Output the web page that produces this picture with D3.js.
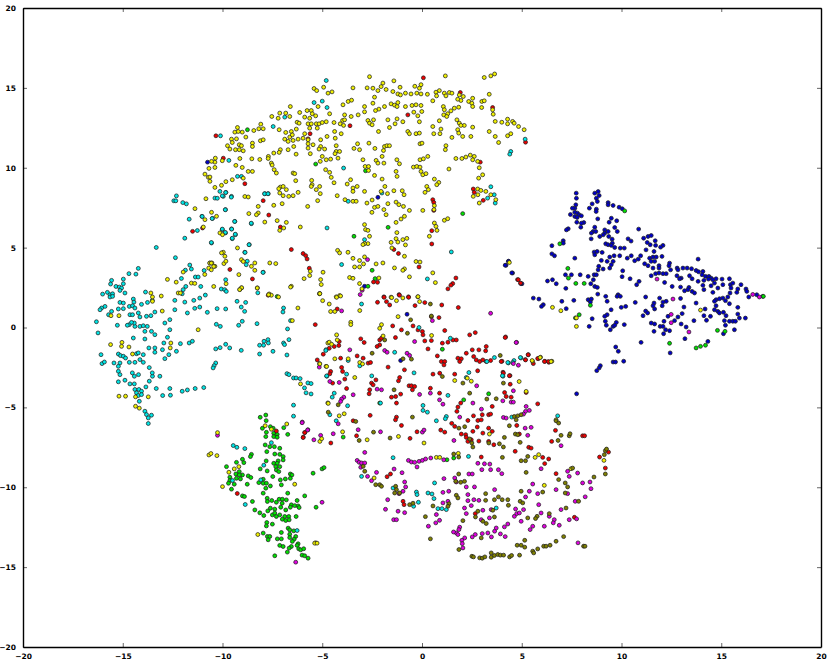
<!DOCTYPE html>
<html><head><meta charset="utf-8">
<script src="https://cdn.jsdelivr.net/npm/d3@7/dist/d3.min.js"></script>
<style>html,body{margin:0;background:#fff}svg{display:block}text{font-family:"DejaVu Sans",sans-serif;font-weight:700;font-size:7.5px}</style>
</head><body><div id="c"></div><script>
const tickValues=[-20,-15,-10,-5,0,5,10,15,20];
const domainX=[-20,20], domainY=[-20,20];
const blue=[[7.73,8.41],[7.74,8.09],[8.66,8.41],[8.83,8.51],[8.88,8.26],[8.74,8.09],[8.79,7.89],[9.33,7.82],[9.33,7.68],[9.58,7.64],[9.88,7.53],[10.04,7.43],[8.53,7.74],[8.39,7.47],[7.71,7.68],[7.66,7.47],[7.54,7.47],[8.74,7.41],[8.73,7.26],[7.66,7.22],[7.44,7.07],[7.79,7.16],[7.88,7.05],[7.99,6.99],[7.66,6.95],[7.78,6.89],[8.81,6.8],[7.76,6.59],[8.11,6.57],[7.99,6.53],[7.96,6.28],[9.49,6.84],[9.38,6.59],[9.76,6.68],[7.33,6.18],[7.24,6.11],[8.66,6.28],[8.58,6.01],[8.71,6.01],[8.49,5.91],[8.48,5.55],[8.91,5.7],[9.16,6.11],[9.33,6.01],[9.16,5.91],[9.08,5.8],[9.36,5.7],[9.66,6.26],[9.79,6.01],[9.53,5.53],[9.54,5.28],[9.21,5.24],[9.33,5.18],[9.66,5.01],[9.49,5.14],[9.94,4.97],[10.14,4.97],[10.33,5.55],[10.48,5.41],[10.86,6.16],[11.11,5.59],[11.33,5.7],[11.49,5.76],[11.29,5.32],[11.44,5.18],[11.69,5.43],[11.71,5.14],[12.08,5.14],[11.96,5.03],[6.51,5.12],[7.08,5.43],[7.08,5.28],[6.51,4.61],[6.64,4.49],[7.66,4.34],[8.63,4.72],[8.78,4.76],[8.66,4.55],[9.03,4.7],[9.41,4.41],[8.99,4.2],[9.28,4.14],[9.63,4.49],[9.58,4.14],[9.49,3.93],[9.41,3.72],[8.86,3.83],[9.08,3.66],[8.83,3.61],[9.91,4.49],[10.29,4.34],[10.49,4.49],[10.66,4.18],[10.84,4.28],[10.96,4.49],[11.23,4.86],[11.63,4.76],[11.41,4.34],[11.58,4.41],[11.74,4.41],[12.03,4.45],[11.49,4.14],[11.66,4.14],[11.16,3.99],[11.33,3.87],[11.58,3.72],[11.88,3.87],[11.88,3.72],[12.41,4.03],[12.38,3.87],[12.79,3.72],[13.08,3.72],[13.29,3.72],[13.51,3.68],[13.84,4.28],[13.74,3.57],[13.86,3.49],[14.08,3.51],[12.46,3.61],[12.83,3.61],[11.88,3.41],[11.71,3.37],[12.08,3.37],[12.24,3.37],[12.78,3.24],[12.99,3.09],[13.41,3.24],[13.54,3.05],[12.91,3.05],[14.04,3.3],[14.21,3.2],[14.38,3.2],[14.49,3.09],[14.36,3.03],[14.58,2.99],[14.74,3.05],[15.04,3.03],[15.41,3.05],[14.66,2.78],[14.83,2.47],[14.49,2.61],[14.08,2.64],[13.84,2.89],[13.38,2.51],[13.33,2.37],[13.54,2.26],[13.66,2.16],[12.16,2.82],[12.54,2.57],[12.96,2.53],[13.16,2.3],[14.58,2.2],[14.13,2.37],[15.08,2.68],[15.46,2.68],[15.58,2.78],[15.99,2.68],[15.49,2.47],[15.44,2.16],[15.83,2.41],[15.78,2.2],[16.24,2.41],[16.28,2.26],[16.38,1.91],[16.78,2.05],[17.08,1.95],[15.33,1.91],[15.08,1.84],[14.74,1.74],[14.91,1.8],[14.66,1.64],[15.21,1.68],[15.41,1.49],[14.74,1.36],[14.66,1.11],[14.83,1.01],[13.74,1.53],[14.19,1.16],[14.46,0.7],[14.13,0.74],[14.26,0.45],[13.63,0.43],[13.13,1.28],[13.04,0.87],[12.83,0.66],[12.66,0.43],[12.99,0.22],[13.24,0.03],[12.96,1.82],[12.24,1.64],[12.08,1.59],[11.91,1.84],[11.63,1.53],[11.58,1.36],[12.04,1.36],[11.66,1.16],[11.21,1.03],[11.08,0.74],[11.31,0.91],[11.49,0.28],[11.66,0.22],[11.94,0.07],[12.08,0.07],[12.13,0.39],[12.33,0.7],[12.21,-0.14],[12.41,-0.2],[12.11,-0.39],[11.63,-0.24],[13.18,-0.7],[11.21,1.91],[10.69,1.57],[10.21,1.32],[9.99,1.26],[9.83,2.05],[9.78,1.95],[9.94,1.95],[9.21,1.95],[9.28,1.64],[9.48,1.11],[9.28,0.8],[9.16,0.7],[9.19,0.39],[9.24,0.14],[9.58,0.07],[9.74,0.32],[9.66,0.14],[9.44,-0.14],[10.14,0.18],[8.53,0.55],[8.38,0.07],[8.33,1.74],[8.49,1.78],[8.44,1.59],[8.81,2.09],[7.61,1.7],[7.01,1.64],[7.23,1.18],[6.08,1.43],[5.99,1.32],[5.86,1.78],[5.58,1.84],[7.21,2.45],[6.73,2.74],[6.29,2.91],[6.54,2.99],[7.19,3.3],[7.49,3.3],[7.93,3.3],[8.33,3.2],[8.63,3.3],[8.74,3.3],[8.59,2.99],[8.46,2.74],[8.66,2.57],[8.79,2.51],[10.03,3.18],[10.06,3.55],[10.43,3.05],[10.88,2.89],[10.76,2.68],[11.49,3.24],[10.98,-0.93],[9.71,-1.22],[9.84,-1.49],[10.11,-2.11],[9.58,-2.16],[9.7,-2.16],[8.94,-2.39],[8.88,-2.53],[8.76,-2.7],[12.44,-1.59],[5.01,2.74],[4.54,3.41],[4.21,3.89],[4.33,4.14],[14.91,0.91],[15.11,0.95],[15.24,0.74],[15.41,0.39],[15.58,0.39],[15.71,0.39],[15.91,0.59],[16.21,0.59],[15.83,1.26],[15.83,0.84],[15.16,0.43],[15.21,0.14],[15.11,-0.39],[15.66,-0.14],[14.33,-0.87],[14.13,2.95],[7.75,-4.15],[-10.75,10.35],[-2.21,8.15],[4.17,3.9],[4.34,4.15],[4.5,3.42],[4.95,2.75],[-2.88,2.58],[-0.75,0.83],[-1.07,-2.07]];
const green=[[10.16,7.3],[6.91,5.24],[7.31,3.7],[7.34,3.09],[7.71,2.76],[8.13,2.76],[8.44,1.39],[7.88,0.8],[7.69,0.6],[14.81,-0.18],[15.19,-0.24],[12.41,-0.99],[14.21,-1.11],[13.96,-1.18],[13.74,-1.28],[17.11,1.95],[-8.75,12.38],[-5.33,10.23],[-2.83,9.81],[2.04,7.13],[-1.7,6.27],[-3.41,5.71],[-2.5,3.58],[-2.35,3.06],[-2.71,2.58],[-7.26,1.94],[1.02,-1.36],[3.34,-4.15],[2.09,-4.53],[-2.12,-4.73],[-3.95,-6.86],[1.25,-8.28],[1.59,-8.17],[-7.83,-5.48],[-8.11,-5.62],[-7.81,-5.83],[-7.6,-6.21],[-8,-6.31],[-6.93,-6.27],[-7.46,-6.31],[-7.8,-6.56],[-7.83,-6.83],[-7.43,-6.62],[-7.26,-6.69],[-7.43,-6.83],[-7.26,-6.87],[-6.73,-6.69],[-7.86,-7.35],[-7.63,-7.46],[-7.4,-7.46],[-7.13,-7.56],[-7.78,-7.77],[-7.38,-7.92],[-7.13,-7.94],[-6.96,-8.08],[-6.96,-8.29],[-7.21,-8.35],[-8.55,-7.94],[-8.6,-8.08],[-9,-8.25],[-8.93,-8.46],[-9.3,-8.44],[-9.8,-8.71],[-7.81,-8.35],[-7.43,-8.5],[-7.26,-8.5],[-7.33,-8.71],[-7.13,-8.71],[-7.3,-8.92],[-7.18,-9.02],[-8.11,-8.85],[-7.76,-8.98],[-7.48,-9.33],[-6.6,-9.17],[-6.52,-9.23],[-6.6,-9.44],[-6.85,-9.48],[-7.1,-9.54],[-5.46,-9.12],[-5.01,-8.85],[-4.91,-8.77],[-9.33,-9.17],[-9.16,-9.02],[-9,-9.23],[-9.16,-9.23],[-8.71,-9.29],[-8.58,-9.39],[-9.3,-9.44],[-9.1,-9.48],[-9.63,-9.37],[-9.63,-9.58],[-9.7,-9.75],[-9.41,-9.81],[-8.76,-9.81],[-9.55,-10.12],[-8.18,-9.71],[-7.96,-9.5],[-7.96,-9.75],[-7.8,-9.75],[-7.6,-9.92],[-7.83,-10.06],[-7.96,-10.37],[-7.05,-9.85],[-6.73,-10.37],[-5.88,-10.54],[-6.26,-10.83],[-9,-10.54],[-8.9,-10.58],[-8.5,-10.89],[-7.76,-10.69],[-7.75,-10.89],[-7.53,-10.83],[-7.3,-10.94],[-7.16,-10.75],[-7,-10.75],[-6.8,-10.79],[-7.01,-11],[-6.55,-11.1],[-6.6,-11.25],[-6.38,-11.15],[-6.21,-11.17],[-6.16,-11.27],[-5.31,-11.25],[-8.38,-11.42],[-8.13,-11.6],[-7.93,-11.77],[-7.73,-11.48],[-7.6,-11.31],[-7.38,-11.37],[-7.08,-11.25],[-6.83,-11.42],[-7.5,-11.73],[-7.38,-11.62],[-7.3,-11.83],[-7.13,-11.73],[-6.88,-11.83],[-6.68,-11.83],[-7,-12],[-6.83,-12.08],[-6.66,-12.04],[-6.31,-11.83],[-7.78,-12.21],[-7.8,-12.42],[-7.5,-12.31],[-6.71,-12.56],[-6.63,-12.67],[-6.43,-12.73],[-7.96,-12.87],[-7.75,-13.08],[-7.63,-13.08],[-7.71,-13.29],[-7.05,-12.83],[-6.63,-12.94],[-6.63,-13.15],[-6.33,-13.08],[-6.41,-13.25],[-6.5,-13.39],[-7.25,-13.23],[-7.05,-13.23],[-7.13,-13.64],[-6.96,-13.71],[-6.21,-13.54],[-6.26,-13.64],[-6.55,-13.71],[-6.66,-13.81],[-6.75,-14.06],[-6.18,-13.85],[-6.08,-13.92],[-5.93,-13.85],[-7.38,-14.29],[-6.01,-14.25],[-5.88,-14.29],[-5.71,-14.44]];
const red=[[0.07,15.63],[1.92,14.71],[3.54,13.77],[-0.71,13.31],[-3.61,12.63],[-5.61,12.13],[-5.71,11.81],[-10.33,12],[-9.96,10.6],[-8.88,9],[-7.96,7.94],[-7.68,7.04],[-11.5,6.02],[-11,6.23],[-7.1,6.29],[-6.55,4.88],[-5.96,4.63],[-5.83,4.5],[-5.76,4.29],[-5.65,3.71],[-9.63,3.63],[-8.5,3.04],[-7.71,2.02],[2.92,10.35],[2.57,8.67],[2.62,8.46],[3.07,7.96],[5.19,11.6],[0.54,8],[0.59,7.83],[0.59,7.33],[0.49,6.06],[0.49,5.23],[-1.41,4.88],[-1.18,4.63],[-0.15,3.79],[1.7,3.1],[1.54,2.75],[1.45,2.65],[1.3,2.42],[-2.43,2.85],[-2.23,2.83],[-1.91,1.92],[-1.15,2.06],[-0.68,1.92],[4.79,3],[4.83,2.99],[4.94,2.78],[4.19,-0.59],[4.01,-2.11],[5.18,-2.01],[5.33,-1.7],[5.58,-2.26],[5.83,-1.95],[6.16,-2.11],[6.36,-2.18],[4.06,-2.8],[4.41,-3.01],[-1.13,2.02],[-1.9,1.89],[-2.23,1.58],[-1.78,1.62],[-1.62,1.41],[-0.67,1.89],[0.14,1.56],[-0.35,1.37],[0.99,1.41],[1.82,1.25],[0.47,0.68],[0.85,0.62],[-5.35,0.18],[-4.25,1.16],[-1.47,0.1],[-0.45,0.1],[-1.03,-0.15],[-0.2,-0.15],[0.02,-0.25],[0.05,-0.46],[1.14,-0.19],[2.39,-0.46],[2.67,-0.32],[4.17,-0.63],[-3.07,-0.71],[-2.9,-0.94],[-2.12,-0.78],[-2.03,-0.67],[-2.12,-1.09],[-2.25,-1.19],[-1.33,-0.63],[0.14,-0.84],[0.47,-0.82],[1.02,-0.98],[1.3,-0.92],[1.55,-0.78],[1.72,-0.78],[0.3,-1.34],[-4.15,-0.88],[-4.17,-1.13],[-4.4,-1.19],[-4.65,-1.3],[-4.95,-1.67],[-5.25,-2.03],[-3.25,-1.78],[-4.08,-1.92],[-2.95,-1.92],[-2.7,-2.23],[-2.58,-2.19],[-1.7,-2.48],[-0.88,-2.65],[0.77,-1.78],[0.97,-2.13],[1.14,-2.13],[1.1,-2.34],[0.55,-2.92],[0.89,-2.86],[1.64,-2.92],[2.79,-2.71],[2.22,-1.61],[2.52,-1.4],[2.85,-1.4],[3.22,-1.19],[3.19,-1.46],[1.8,-1.92],[1.97,-1.96],[1.89,-2.13],[2.59,-1.82],[2.72,-2.03],[2.89,-2.13],[3.05,-2.03],[3.22,-2.13],[3.44,-2.07],[3.97,-2.13],[5.19,-2.03],[5.32,-1.71],[5.8,-1.94],[6.14,-2.13],[6.34,-2.13],[-4.03,-2.5],[-3.98,-2.75],[-3.87,-3.23],[-4.58,-2.75],[-4.62,-2.9],[-4.48,-3.48],[-3.78,-3.82],[-2.53,-3.48],[-2.31,-3.28],[-2.45,-3.59],[-2.62,-3.9],[-2.65,-4.15],[-1.18,-3.34],[-1.12,-3.13],[-1.32,-4.32],[-1.53,-4.36],[-1.07,-4.17],[-1.28,-4.73],[-0.65,-3.65],[-0.53,-3.65],[-0.37,-3.69],[-0.48,-3.9],[0.42,-3.8],[0.88,-4.11],[-3.45,-5.84],[-2.6,-5.5],[-1.28,-5.61],[-1.33,-5.78],[-1.03,-6.13],[-5.87,-6.57],[-5.95,-6.86],[-4.57,-7.23],[-3.28,-6.78],[-0.6,-6.94],[-0.25,-6.53],[0.94,-6.42],[1.14,-6.55],[1.49,-6],[1.64,-6.19],[1.97,-6.67],[2.19,-6.71],[2.22,-6.88],[2.3,-7.13],[2.47,-7.03],[2.55,-6.5],[2.3,-5.82],[2.58,-5.53],[2.8,-5.82],[2.97,-5.78],[3.02,-5.46],[2.77,-6.23],[3.05,-6.61],[3.34,-5.46],[3.44,-5.42],[3.34,-6.3],[3.52,-6.5],[2.85,-7.11],[3.34,-7.13],[3.6,-7.34],[4.38,-3.02],[4.08,-2.86],[4.42,-3.55],[4.14,-4.07],[4.22,-4.32],[4.47,-4.36],[1.94,-4.73],[1.8,-4.98],[1.75,-5.25],[3.52,-4.94],[5.8,-4.78],[5.22,-4.07],[5.35,-7.5],[5.47,-7.55],[4.67,-7.75],[6.05,-8.13],[6.35,-8.23],[6.15,-8.52],[6.72,-9.15],[6.5,-7.13],[6.69,-6.44],[8.05,-6.78],[8.15,-6.78],[8.9,-8.11],[9.35,-7.8],[9.19,-8.8],[2.97,-8.11],[4.88,-6.67],[4.75,-6.13],[-1.75,-9.34],[-1.58,-9.17],[-0.95,-10.88],[-0.9,-11.09],[7.64,-11.88],[2.67,-11.65],[-7.3,-6.48],[-5.88,-6.58],[-5.96,-6.89],[-9.26,-10.39]];
const cyan=[[-4.8,15.46],[-5.41,14.08],[-5,14.17],[-4.76,13.77],[-6.88,13.17],[-7.46,12.58],[-10.1,12],[-9.68,10.46],[-3.93,9.98],[-9.25,9.46],[-9.05,9.46],[-10.13,8.52],[-9.83,8.46],[-9.96,8.21],[-9.55,8.21],[-10.38,8.1],[-7.88,8.38],[-7.71,8.38],[-9.85,7.38],[-9.38,6.64],[-11.03,6.96],[-10.5,6.83],[-8.55,6.5],[-10.01,6.13],[-9.55,6.17],[-9.85,5.92],[-9.35,5.81],[-9.51,5.56],[-10.55,5.29],[-8.66,5.19],[-8.88,4.71],[-8.76,4.15],[-7.96,3.46],[-4.76,6.23],[-2.88,5.5],[-3.7,7.9],[-2.01,8.42],[3.45,8.81],[3.62,8.31],[3.29,8.1],[3.67,7.79],[4.45,11.02],[4.4,10.85],[5.17,11.79],[1.47,4.73],[-4.03,3.94],[0.27,3.04],[-8.23,2.17],[-12.31,8.24],[-12.44,7.93],[-12.34,7.93],[-11.99,7.82],[-11.81,7.74],[-9.86,7.37],[-11.02,6.95],[-10.52,6.82],[-11.67,6.78],[-11.26,6.07],[-11.89,5.59],[-10.56,5.32],[-13.32,5.01],[-12.36,4.37],[-11.64,3.91],[-11.86,3.59],[-11.56,3.66],[-11.36,3.16],[-11.22,3.16],[-12.06,3.07],[-11.84,2.57],[-11.97,2.37],[-12.02,2.11],[-11.09,2.57],[-10.86,2.03],[-11.14,1.84],[-11.44,1.7],[-11.89,1.59],[-12.39,1.7],[-12.39,1.11],[-11.39,1.2],[-11.14,1.28],[-10.76,0.95],[-11.76,0.91],[-12.64,0.49],[-12.89,0.28],[-12.64,-0.14],[-12.76,-0.61],[-12.94,-0.97],[-13.39,-1.28],[-13.69,-1.28],[-13.39,-1.55],[-13.01,-1.39],[-12.69,-1.7],[-12.89,-1.95],[-12.31,-1.49],[-12.11,-1.01],[-11.67,-0.97],[-11.51,-0.86],[-10.31,0.2],[-10.11,0.07],[-10.92,3.57],[-10.06,2.41],[-9.89,2.37],[-9.81,2.26],[-9.84,2.99],[-9.27,1.64],[-9.06,1.28],[-8.84,1.57],[-8.89,1.01],[-9.84,1.16],[-10.27,1.18],[-9.19,0.14],[-9.01,0.39],[-10.34,-1.34],[-10.12,-1.26],[-9.84,-1.05],[-9.64,-1.28],[-9.06,-1.43],[-10.34,-2.22],[-10.42,-2.39],[-10.47,-2.53],[-10.94,-3.76],[-11.37,-3.82],[-11.76,-3.91],[-12.02,-3.99],[-12.64,-3.82],[-12.61,-4.24],[-13,-4.26],[-13.32,-3.82],[-13.84,-3.72],[-13.67,-3.36],[-13.14,-3.05],[-13.51,-3.05],[-13.52,-2.84],[-13.67,-2.51],[-13.97,-2.18],[-14.21,-2.95],[-14.52,-2.84],[-14.42,-3.05],[-14.89,-3.3],[-15.22,-3.4],[-14.64,-3.53],[-14.42,-3.53],[-14.39,-3.88],[-14.19,-3.88],[-14.06,-3.99],[-14.31,-4.09],[-14.22,-4.26],[-14.06,-4.2],[-14.17,-4.62],[-13.89,-5.24],[-13.81,-5.45],[-13.56,-5.49],[-13.72,-5.66],[-13.72,-6.01],[-14.47,-0.66],[-13.89,-0.72],[-13.89,-0.24],[-13.77,0.07],[-14.14,0.07],[-13.97,0.11],[-14.39,0.07],[-14.67,0.18],[-14.77,0.14],[-14.42,0.28],[-14.56,0.32],[-15.27,0.14],[-16.32,0.36],[-16.24,-0.34],[-16.09,-1.7],[-16.04,-2.26],[-15.92,-2.16],[-15.44,-2.22],[-15.22,-1.66],[-15.11,-1.76],[-14.97,-1.8],[-14.86,-1.91],[-14.67,-2.18],[-15.14,-2.22],[-15.22,-2.43],[-15.22,-2.74],[-15.14,-2.95],[-14.39,-2.18],[-14.31,-1.64],[-14.14,-2.01],[-13.97,-1.7],[-14.22,-1.59],[-13.56,-0.24],[-13.39,-0.45],[-14.22,3.7],[-14.69,3.37],[-14.34,3.34],[-14.97,3.03],[-15.56,2.95],[-15.61,2.72],[-15.34,2.57],[-15.17,2.53],[-14.97,2.74],[-15.06,2.47],[-14.89,2.16],[-15.14,2.32],[-15.77,2.2],[-16.01,2.09],[-15.64,2.05],[-15.51,2.11],[-15.64,1.91],[-15.51,1.95],[-13.86,2.22],[-14.47,1.78],[-14.44,1.59],[-15.14,1.57],[-14.97,1.53],[-14.67,1.32],[-14.51,1.36],[-14.06,1.45],[-13.76,1.57],[-13.52,1.7],[-14.39,1.22],[-14.22,0.91],[-15.22,1.16],[-14.97,1.18],[-15.89,1.32],[-16.06,1.22],[-16.14,1.11],[-15.56,1.01],[-15.71,0.8],[-14.64,0.8],[-14.51,0.8],[-14.14,0.66],[-13.81,0.7],[-13.59,0.74],[-13.39,0.97],[-9.54,6.16],[-10.01,6.16],[-9.86,5.95],[-9.36,5.84],[-9.51,5.59],[-9.39,6.64],[-8.56,6.53],[-8.87,4.7],[-8.67,5.18],[-8.81,3.93],[-7.97,3.45],[-7.89,8.37],[-7.72,8.37],[-10.01,8.24],[-9.84,8.45],[-10.26,8.09],[-9.56,8.16],[-6.94,1.22],[-6.97,0.97],[-6.59,0.43],[-8.27,0.24],[-6.74,-0.09],[-6.67,-0.76],[-6.94,-0.97],[-6.89,-1.07],[-7.72,-0.76],[-7.92,-0.86],[-7.7,-0.97],[-7.94,-1.11],[-8.14,-1.11],[-8.14,-1.66],[-7.47,-1.49],[-6.77,-1.72],[-6.77,-2.89],[-6.67,-2.95],[-6.44,-3.16],[-6.31,-3.16],[-6.11,-3.2],[-5.72,-3.47],[-5.56,-3.51],[-5.89,-3.78],[-5.81,-4.09],[-5.56,-4.16],[-6.44,-4.86],[-6.44,-5.55],[-4.81,-1.39],[-4.77,-3.05],[4.33,-2.22],[4.61,-2.07],[4.96,-1.91],[4.06,-3.05],[-3.03,1.47],[-0.15,0],[1.42,-0.67],[-1.37,-1.55],[-4.82,-1.44],[3.25,-2.13],[3.63,-1.88],[4.3,-2.19],[4.55,-2.19],[4.93,-1.88],[-3.7,-2.07],[-3.12,-2.4],[-3.78,-2.92],[-4.78,-3.03],[-2.52,-3.03],[-0.4,-2.84],[2.35,-2.82],[2.22,-3.13],[4.03,-3.02],[1.3,-4.25],[-4.4,-4.11],[-4.5,-4.36],[-3.73,-4.9],[-4.62,-5.46],[-4.3,-5.84],[0.05,-4.88],[0.05,-5.19],[0.27,-5.3],[0.72,-5.84],[1.22,-5.57],[1.17,-5.71],[-2.08,-4.73],[4.5,-5.61],[6.8,-5.53],[-1.45,-8.15],[2.33,-8.07],[-3.03,-9.32],[0.63,-9.73],[-1.45,-10.05],[-0.28,-10.3],[-0.25,-10.46],[-0.18,-10.94],[-0.42,-11.19],[0.3,-10.36],[0.5,-10.42],[0.6,-10.71],[0.8,-11.34],[1,-11.34],[1.22,-11.4],[3.72,-11.3],[-9.46,-7.39],[-9.28,-7.5],[-8.88,-7.58],[-7.55,-7.21],[-7.93,-8.62],[-8.08,-9.54],[-9.5,-9.58],[-8.86,-11.08],[-6.26,-12.71]];
const magenta=[[-2.73,4.25],[-3,2.33],[-3.1,2.06],[11.78,3.03],[12.58,1.78],[12.49,0.82],[12.49,0.3],[13.38,-0.28],[16.58,2.07],[16.91,1.91],[4.74,-0.93],[4.58,-2.26],[4.83,-2.36],[-4.03,1.04],[3.44,0.89],[0.52,0.43],[-0.37,-0.88],[4.72,-0.94],[-3.62,-1.4],[-1.87,-1.44],[-1.75,-1.55],[-0.75,-1.61],[-0.62,-1.75],[-5.15,-2.48],[-4.15,-3.44],[-4.62,-3.38],[-3.92,-4.36],[-4.03,-4.48],[-4.08,-4.63],[-3.45,-4.21],[-2.25,-3.86],[-2.03,-3.9],[-0.12,-4.19],[0.42,-4.11],[0.88,-4.53],[1.05,-4.8],[1.89,-5.61],[2.74,-3.65],[2.98,-5.11],[2.55,-4.73],[4.05,-4.59],[4.47,-4.67],[4.58,-4.67],[4.58,-3.96],[4.08,-5.63],[4.22,-5.67],[5.22,-4.94],[5.19,-5.25],[5.38,-5.19],[5.09,-5.42],[5.3,-6.75],[5.17,-6.3],[5.47,-6.25],[6.97,-7.4],[1.6,-7.07],[-6,-5.92],[-5.72,-6.4],[-5.42,-7.03],[-5.08,-6.75],[-4.45,-6.65],[-4.2,-6.03],[-3.2,-6.4],[-2.08,-6.53],[0.02,-6.55],[0.1,-6.42],[-0.68,-8.32],[-0.53,-8.42],[-0.37,-8.44],[-0.15,-8.38],[0.02,-8.32],[0.18,-8.23],[0.44,-8.17],[-0.25,-8.73],[1.09,-8.28],[-2.87,-7.82],[-3.25,-8.32],[-3.15,-8.44],[-3.03,-8.48],[-2.87,-8.48],[-3.07,-8.75],[-2.73,-9.32],[-2.53,-9.59],[-2.28,-9.07],[-1.4,-8.86],[-1,-9.09],[-0.87,-9.67],[-0.82,-9.98],[-0.95,-10.25],[-1.15,-10.4],[-1.72,-10.78],[-1.83,-11.38],[-1.2,-11.5],[-0.87,-11.59],[-1.42,-12.03],[-1.28,-12.03],[2.8,-8.5],[3.13,-8.53],[3.4,-8.55],[3,-8.9],[3.44,-8.9],[3.83,-8.9],[4,-9.15],[5.97,-8.84],[1.1,-9.46],[1.64,-9.42],[1.72,-9.67],[2.35,-9.17],[2.52,-9.17],[2.22,-9.98],[2.3,-10.46],[2.63,-9.98],[1.05,-10.32],[1.34,-10.25],[1.05,-10.98],[1.3,-10.88],[0.72,-11.71],[0.88,-12.07],[0.69,-12.23],[0.32,-12.44],[2.3,-10.84],[2.6,-10.78],[2.85,-10.82],[2.13,-11.3],[2.47,-11.15],[3.05,-11.44],[2.22,-11.65],[3.47,-11.4],[2.97,-12.03],[3.38,-11.92],[4.13,-12.48],[4.3,-12.3],[3.64,-12.75],[3.72,-12.55],[1.89,-12.5],[1.85,-12.65],[1.72,-12.86],[1.58,-12.8],[1.8,-12.96],[2.14,-13.17],[2,-13.32],[2.02,-13.53],[2.05,-13.8],[2.52,-13.11],[2.67,-12.96],[3.02,-12.9],[3.3,-12.86],[3.48,-13.11],[3.93,-12.92],[4.17,-13.09],[4.69,-11.36],[4.63,-11.82],[4.75,-11.65],[4.88,-11.61],[4.97,-12.13],[5.42,-12.65],[5.55,-12.44],[5.85,-11.09],[5.97,-11.61],[6.13,-12.44],[6.38,-11.82],[6.63,-12.03],[6.88,-12.38],[6.58,-12.23],[6.97,-11.4],[7.38,-12.03],[7.75,-11.98],[7.68,-10.88],[8.18,-10.6],[8.47,-10.09],[8.05,-9.73],[8.42,-9.67],[7.8,-9.11],[7.3,-9],[7.38,-9.32],[7.3,-10.4],[6.72,-10.15],[5.8,-10.4],[5.38,-10.25],[5.19,-10.61],[5.55,-9.8],[5.09,-11.4],[7.82,-13.48],[3.64,-10.15],[-10.25,-6.75],[-6.01,-5.96],[-5.73,-6.42],[-6.33,-14.69],[-5.01,-10.94]];
const yellow=[[-2.63,15.7],[1.17,15.75],[3.12,15.65],[3.45,15.75],[3.64,15.87],[-1.41,15.44],[-1.96,15.3],[-2.05,15.08],[-1.8,14.9],[-2.46,14.98],[-2.75,15],[-3.46,15],[-1.1,15.04],[-0.36,15.1],[-0.05,15.2],[-0.13,14.98],[0.87,14.83],[-5.41,14.96],[-5.28,14.83],[-4.93,15.04],[-4.51,14.75],[-4.71,14.67],[-2.21,14.83],[-1.46,14.77],[-1.21,14.62],[-1.08,14.56],[-0.83,14.67],[-0.55,14.62],[-0.26,14.67],[-0.05,14.62],[0.27,14.6],[0.7,14.73],[0.73,14.5],[1.12,14.67],[1.37,14.71],[1.5,14.67],[1.2,14.5],[3.37,14.6],[1.87,14.56],[2.07,14.46],[1.95,14.21],[1.79,14.29],[2.34,14.15],[2.54,14.35],[2.5,14.04],[2.54,13.83],[2.99,13.77],[3,14.15],[3.12,14.19],[-2.38,14.42],[-2.46,14.04],[-2.88,13.83],[-2.88,13.5],[-3.2,13.31],[-2.16,13.67],[-2.33,13.58],[-1.88,13.83],[-1.55,14],[-1.38,13.92],[-1.21,14.08],[-1.25,13.83],[-0.83,13.83],[-0.5,13.9],[-0.3,13.94],[-0.05,13.9],[-0.01,13.52],[-0.41,13.48],[-0.21,13.25],[0.54,14.19],[1.07,13.83],[1.12,13.63],[1.62,13.73],[1.84,13.79],[1.45,13.56],[1.29,13.38],[1.09,13.31],[1.24,13.21],[-3.96,13.94],[-3.7,14.15],[-3.53,14.23],[-6.6,13.83],[-5.21,13.83],[-5.76,13.58],[-5.55,13.58],[-6.13,13.46],[-5.5,13.38],[-5.33,13.25],[-4.63,13.38],[-3.88,13.31],[-3.55,13.21],[-7.53,13.21],[-7.13,13.42],[-6.83,13.42],[-7.21,13.1],[-6.63,13.21],[-5.88,13.17],[-5.63,13.1],[-6.26,12.85],[-6.16,12.79],[-5.71,12.75],[-5.55,12.75],[-5.3,12.75],[-5.16,12.75],[-5,12.83],[-4.8,12.88],[-4.41,12.83],[-3.98,12.96],[-3.88,13],[-4.1,12.75],[-3.93,12.65],[-2.71,12.96],[-2.43,13],[-2.63,12.79],[-2.5,12.69],[-1.71,13],[-1.25,13.06],[-1.35,12.75],[-0.96,12.88],[-1.63,12.52],[-0.13,12.88],[0.87,12.94],[1.75,13],[1.87,12.79],[2.12,12.65],[1.95,12.65],[2.54,12.54],[0.54,12.58],[0.95,12.42],[3.67,12.9],[4,12.85],[4.29,13.04],[4.29,12.75],[4.54,12.9],[4.62,12.79],[4.84,12.58],[5.12,12.38],[3.54,13.63],[3.57,13.35],[3.37,12.27],[3.67,11.96],[4.45,12.13],[4.29,12],[3.84,11.58],[1.79,12.38],[1.84,12.17],[2.04,11.96],[2.45,11.96],[1.5,11.9],[0.59,12.13],[0.9,12.13],[-0.71,12.27],[-0.63,12.13],[-0.3,12.13],[-0.13,12.17],[-2.18,12.27],[1.2,11.38],[1.17,11.13],[-0.1,11.5],[0,11.54],[-2.66,11.54],[-3.23,11.5],[-3.41,11.21],[-3.13,11.13],[-2.36,11.21],[-1.88,11.33],[-1.76,11.38],[-1.63,11.38],[-1.93,11.08],[-2,10.71],[-4.3,11.38],[-4.3,11.02],[-4.13,11.02],[-4.36,10.88],[-4.05,12.13],[-4.35,11.85],[-4.38,12.27],[-5.25,12.48],[-5.63,12.48],[-6.55,12.27],[-6.3,12.42],[-6.83,12.21],[-7.16,12.38],[-6.63,11.92],[-6.5,12.06],[-5.88,12.13],[-6.21,11.79],[-5.96,11.85],[-6.88,11.79],[-6.71,11.65],[-6.46,11.71],[-6.43,11.33],[-5.71,11.75],[-5.46,11.44],[-5.71,11.5],[-4.76,11.96],[-5.08,11.75],[-5.08,11.33],[-5.16,11.17],[-4.88,11.17],[-5.71,11.23],[-5.6,10.88],[-6.31,10.85],[-7.1,11.13],[-6.71,11.13],[-7.16,10.96],[-7.43,10.92],[-7.7,10.71],[-7.71,10.58],[-8.13,10.52],[-8.53,10.56],[-9.13,10.58],[-5,10.71],[-4.8,10.5],[-4.58,10.54],[-4.21,10.6],[-5.1,10.4],[-7.55,10.29],[-7.51,10.17],[-9.25,12.52],[-9.38,12.23],[-9.21,12.27],[-9.01,12.23],[-8.43,12.33],[-8.18,12.44],[-8.08,12.73],[-7.96,12.44],[-8.83,11.92],[-9.55,11.79],[-9.51,11.58],[-9.3,11.81],[-9.75,11.38],[-9.63,11.17],[-9.16,11.44],[-9.05,11.38],[-9.35,11.13],[-9.16,11.13],[-8.96,11.06],[-8.5,11.54],[-8.5,11.33],[-8.1,11.69],[-7.96,11.75],[-10.38,10.35],[-10.55,10.4],[-10.36,10.6],[-9.33,10.15],[-9.01,10.02],[-10.68,9.96],[-10.38,10.02],[-10.88,9.6],[-10.71,9.4],[-10.63,9.42],[-10.63,9.15],[-9.83,9.13],[-10.05,8.9],[-10.38,8.77],[-9.51,9.25],[-8.96,9.35],[-8.71,9.77],[-8.5,9.77],[-10.01,10.44],[-7.41,9.88],[-7.3,9.67],[-6.46,9.67],[-6.38,9.63],[-6.33,9.19],[-7.1,8.79],[-7.18,8.69],[-6.96,8.83],[-6.8,8.63],[-7.13,8.42],[-6.96,8.25],[-6.68,8.21],[-6.46,8.25],[-6.21,8.46],[-5.53,9.21],[-5.51,8.94],[-5.55,8.83],[-5.13,8.83],[-5.3,8.63],[-5.1,8.38],[-5.23,7.94],[-4.83,9.88],[-4.63,9.71],[-4.55,9.4],[-4.41,9.06],[-4.25,8.25],[-3.58,9.25],[-3.75,8.98],[-3.46,8.73],[-3.25,8.83],[-3.46,8.52],[-2.88,8.52],[-3.86,8],[-3.46,7.9],[-3.3,7.9],[-2.76,7.79],[-2.5,7.98],[-2.38,9.52],[-2.96,10.5],[-2.85,10.08],[-2.68,10.08],[-2.68,9.83],[-2.3,10.46],[-2.21,10.29],[-1.91,10.29],[-1.26,10.5],[-1.13,10.25],[-1.3,9.77],[-1.25,9.46],[-2,9.29],[-1.86,8.83],[-2.05,8.52],[-1.73,8.38],[-1.41,8.56],[-0.99,8.56],[-0.9,8.31],[-1.3,7.85],[-1.16,7.69],[-0.93,7.58],[-1.71,7.75],[-2.38,7.52],[-2.21,7.58],[-1.91,7.38],[-1.8,7.06],[-2.51,7.21],[-0.63,7.33],[-0.88,6.96],[-1.05,6.79],[-1.3,6.58],[0.04,7.33],[-0.43,10.04],[-0.26,10.08],[-0.1,10.04],[-0.1,10.5],[0.07,10.56],[0.29,10.71],[-0.05,9.77],[0.04,9.56],[0.2,9.63],[0.62,9.29],[0.84,9.08],[0.74,8.94],[0.24,8.83],[0.32,8.63],[0.15,8.46],[1.35,9.92],[1.7,10.58],[2,10.58],[2.2,10.67],[2.42,10.79],[2.62,10.71],[2.54,10.5],[2.79,10.4],[2.87,10],[3.04,9.56],[2.84,9.35],[0.62,7.63],[0.6,7.38],[1.12,6.71],[1.29,6.81],[0.62,6.54],[0.7,6.33],[0.75,6.08],[0.37,5.71],[2.79,8.67],[2.95,8.58],[2.57,8.21],[2.8,8.31],[3.2,8.52],[3.45,8.31],[2.87,7.79],[3.7,8],[-2.88,6.44],[-2.83,6.13],[-2.71,6.08],[-2.63,5.71],[-2.71,5.25],[-2.88,5.25],[-2.96,5.19],[-1.26,5.94],[-1.3,5.56],[-1.55,5.33],[-1.21,5.35],[-0.96,5.5],[-0.76,5.58],[-0.83,5.17],[-0.88,4.46],[-1.51,4.98],[-4.23,4.83],[-4.13,4.67],[-3.71,4.71],[-3.46,4.33],[-3.13,4.19],[-2.88,4.42],[-2.93,3.98],[-3.38,3.79],[-3.13,3.79],[-2.3,3.98],[-1.96,4.04],[-1.38,3.73],[-0.88,3.67],[-0.96,3.58],[-0.3,4.13],[-0.1,4.1],[0.54,3.42],[0.67,2.81],[-0.63,3.17],[-3.63,3.13],[-3.46,3.08],[-3.13,2.75],[-2.16,3.1],[-3.01,2.42],[-5.08,3],[-5.05,2.69],[-4.96,3.46],[-5.91,3.06],[-5.63,3.25],[-5.6,3.52],[-6.55,2.58],[-9.13,2.38],[-9.05,2.48],[-9.18,3.31],[-8.25,2.48],[-7.66,2.1],[-7.55,2.02],[-5.13,2.13],[-4.3,1.92],[-4.13,2],[-1.55,1.9],[-0.96,1.85],[-0.21,1.92],[-8.38,4.04],[-8.38,3.58],[-7.63,4.04],[-7.33,4],[-9.05,4.25],[-8.96,4.13],[-8.55,3.83],[-9.96,4.71],[-10.05,4.67],[-9.88,4.46],[-9.93,4],[-9.83,4.15],[-10.63,4.04],[-10.53,4.04],[-10.38,3.83],[-9.25,4.98],[-7.13,6.08],[-7.26,6.69],[-6.8,6.58],[-6.93,6.23],[-6.1,6.29],[-7.88,6.6],[-8.21,7.17],[-8.3,7.06],[-8.68,7.13],[-8.21,7.58],[-7.43,7.65],[-7.01,7.75],[-5.73,7.58],[-8.88,8.2],[-8.71,8.17],[-10.83,8.06],[-11.38,7.44],[-10.55,7.21],[-10.3,6.96],[-10.88,6.75],[-10.96,6.29],[-10.13,5.92],[-10,5.81],[-12.76,3.01],[-12.32,2.84],[-11.97,3.47],[-12.22,2.16],[-12.11,2.16],[-11.56,2.78],[-11.39,2.76],[-10.89,3.32],[-10.64,4.03],[-10.56,4.03],[-10.44,3.82],[-10.69,3.72],[-10.56,3.61],[-10.44,2.57],[-9.82,2.74],[-9.04,2.49],[-9.14,2.37],[-8.26,2.47],[-7.69,2.05],[-7.19,1.91],[-6.59,2.53],[-5.14,2.11],[-6.22,1.22],[-6.5,0.43],[-13.59,2.16],[-13.51,1.91],[-13.51,1.64],[-13.07,1.97],[-13.02,1.03],[-15.19,0.74],[-15.59,0.74],[-15.61,-1.07],[-15.04,-0.93],[-15.06,-1.18],[-14.69,-1.22],[-14.51,-1.66],[-15.19,-4.3],[-14.86,-4.3],[-14.36,-4.34],[-13.72,-4.34],[-14.36,-4.93],[-14.17,-5.05],[-12.59,-0.97],[-12.62,-1.28],[-11.22,-0.14],[-6.09,-3.53],[-4.72,-0.97],[-4.81,-2.43],[-5.14,-2.26],[-4.72,-4.72],[4.38,4.07],[6.54,1.26],[6.96,1.05],[7.74,0.6],[7.74,0.07],[13.96,1.09],[5.54,-2.11],[5.94,-1.86],[6.51,-2.11],[-5.12,2.12],[-4.28,1.89],[-4.08,1.97],[-4.98,1.68],[-4.65,1.47],[-4.58,1],[-4.37,1],[-3.12,1.06],[-1.52,1.87],[-1.28,1.68],[-0.2,1.93],[-0.12,1.62],[-1.2,0.68],[-3.57,0.33],[-3.57,0.18],[-2.12,-0.05],[-2.03,0.18],[-4.28,-0.46],[-4.25,-0.78],[-4.65,-0.92],[-4.53,-1.05],[-4.37,-1.96],[-5.12,-2.28],[-4.78,-2.44],[-3.7,-1.96],[-3.12,-2.19],[-2.98,-2.28],[-3.37,-3.13],[-1.95,-0.53],[0.48,-0.5],[1.64,-3.32],[2.27,-3.17],[2.47,-3.36],[4.87,-3.38],[5.22,-4],[5.52,-2.07],[5.92,-1.88],[6.47,-2.13],[-4.7,-4.75],[-4.15,-5.53],[-3.9,-5.4],[-3.98,-6.53],[-5.12,-7.13],[-5.03,-6.96],[-2.75,-7.03],[-1.18,-6.82],[0.1,-7.23],[0.72,-8.13],[0.89,-8.13],[1.82,-7.88],[3.38,-6.67],[5.67,-8.13],[5.85,-7.96],[6.72,-5.78],[7.47,-8.84],[9.12,-8.32],[6.13,-9.88],[-5.33,-13.48],[-2.4,-9.42],[-10.25,-6.58],[-10.68,-7.98],[-10.58,-7.89],[-10.28,-8.02],[-9.68,-9.06],[-9.18,-8.71],[-9.41,-8.85],[-10,-9.96],[-6.38,-9.81],[-8.23,-12.96],[-5.38,-13.5],[-5.26,-13.5],[-6.78,-6.04],[-7.55,-6.37],[-7.86,-6.15]];
const olive=[[0.42,1.47],[0.47,0.72],[-0.57,0.48],[-0.73,-0.36],[-1.87,-0.78],[-2.5,-1.61],[-0.95,-1.96],[-0.53,-1.98],[3.92,-1.75],[2.05,-3.48],[1.02,-3.07],[2.39,-4.11],[4.08,-3.48],[3.25,-4.48],[3.72,-4.46],[-1.4,-3.9],[-4.2,-4.84],[-4.7,-5.3],[-3.32,-5.88],[-3.15,-7.07],[-2.43,-6.55],[-1.6,-6.92],[-0.48,-5.61],[1.85,-6.3],[2.14,-6.21],[2.5,-7.23],[2.39,-6.98],[2.55,-7.48],[3.35,-7.23],[3.88,-7.28],[4.08,-7.48],[4.13,-6.88],[4.03,-8.13],[4.38,-6.15],[4.63,-5.57],[4.8,-5.53],[4.97,-5.46],[4.72,-5.78],[4.68,-6.67],[4.8,-6.71],[4.92,-7.19],[4.97,-8.34],[5.19,-8.34],[5.3,-8.07],[5.22,-9.07],[6.82,-7.07],[6.97,-6.75],[7.38,-6.78],[7.42,-6.65],[6.72,-5.84],[6.85,-5.98],[7.55,-8.8],[9.19,-7.71],[9.25,-7.61],[9.14,-7.96],[9.19,-9.17],[8.62,-9.36],[7.18,-9.73],[7.3,-9.98],[7.18,-10.36],[7.22,-11.3],[7.85,-10.88],[6.05,-10.3],[6.85,-9.52],[4.97,-10.25],[4.3,-10.78],[4.02,-10.78],[3.83,-10.6],[3.63,-10.78],[3.19,-10.4],[3.19,-10.82],[4.33,-11.13],[4.92,-10.88],[5.05,-10.98],[3.55,-11.44],[3.63,-11.86],[2.8,-11.5],[2.68,-11.86],[3.05,-12.13],[3.22,-12.27],[2.05,-12.09],[2.97,-13.17],[5.77,-11.82],[5.69,-11.96],[6.38,-11.65],[5.3,-11.92],[1.84,-9.17],[1.69,-9.63],[1.94,-9.69],[2.13,-9.63],[1.72,-10.5],[1.8,-10.67],[1.35,-11.03],[1.3,-11.19],[0.55,-11.17],[0.17,-11.84],[0.42,-13.23],[2.5,-14.32],[2.58,-14.36],[2.89,-14.42],[3.02,-14.44],[3.15,-14.36],[3.47,-14.11],[3.47,-14.38],[3.63,-14.27],[3.8,-14.21],[3.93,-14.25],[4.09,-14.25],[4.39,-14.36],[4.49,-14.27],[4.89,-14.25],[4.77,-13.63],[4.97,-13.63],[5.15,-13.75],[5.15,-13.32],[5.55,-14],[5.6,-14.11],[5.8,-13.86],[6.1,-13.69],[6.22,-13.69],[6.42,-13.63],[6.72,-13.38],[7.1,-13.09],[8.1,-13.69],[8.17,-13.69],[1.85,-13.9],[-2.32,-9.84],[-2.12,-9.84],[-2.03,-9.94],[-2.95,-8.69],[-2.87,-9],[-1.32,-9.94],[-1.28,-10.15],[-1.12,-10.36],[-1.37,-10.36],[-0.62,-11.09],[-0.45,-11],[1.59,-7.92],[1.84,-8.11]];
const seriesList=[["#0000c8",blue],["#00e000",green],["#f00000",red],["#00e6e6",cyan],["#e000e0",magenta],["#f0f000",yellow],["#808000",olive]];

const W=830,H=662,L=23,R=821,T=8,B=647;
const svg=d3.select("#c").append("svg").attr("width",W).attr("height",H);
const x=d3.scaleLinear().domain(domainX).range([L,R]);
const y=d3.scaleLinear().domain(domainY).range([B,T]);
svg.append("g").selectAll("g").data(seriesList).join("g").attr("fill",d=>d[0])
  .selectAll("circle").data(d=>d[1]).join("circle")
  .attr("cx",d=>x(d[0])).attr("cy",d=>y(d[1])).attr("r",1.95).attr("stroke","#222").attr("stroke-width",0.75);
const fmt=d=>String(d).replace("-","\u2212");
const axes=[[d3.axisBottom(x),0,B,-4,true],[d3.axisLeft(y),L,0,-4,true],[d3.axisTop(x),0,T,-4,false],[d3.axisRight(y),R,0,-4,false]];
axes.forEach(([a,tx,ty,size,lab])=>{
  const g=svg.append("g").attr("transform",`translate(${tx},${ty})`)
    .call(a.tickValues(tickValues).tickSizeOuter(0).tickSizeInner(size).tickPadding(lab?7:0).tickFormat(lab?fmt:""));
  g.selectAll(".domain").attr("stroke","#000").attr("stroke-width",1.4);
  g.selectAll(".tick line").attr("stroke","#000").attr("stroke-width",0.6);
  g.selectAll("text").attr("fill","#000");
});
</script></body></html>
